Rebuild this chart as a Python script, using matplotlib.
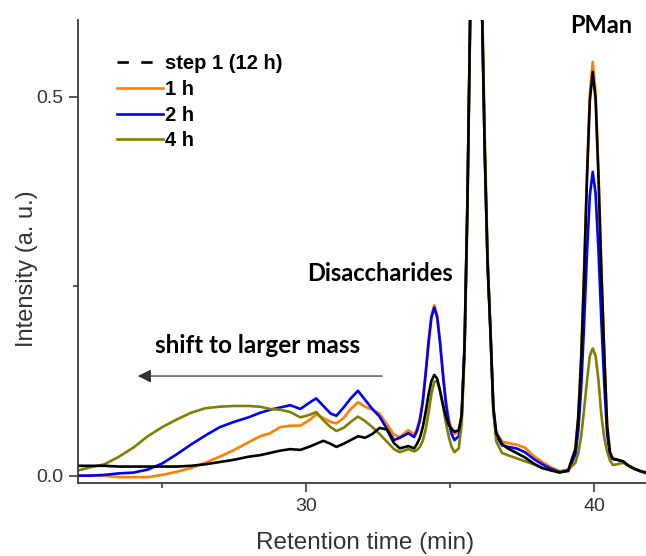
import matplotlib

matplotlib.use("Agg")

import matplotlib.pyplot as plt
from matplotlib.lines import Line2D
from matplotlib.ticker import FixedLocator


# retention time grid (min), denser around the peaks
TIME = [
    22.1, 22.5, 23.0, 23.5, 24.0, 24.5, 25.0, 25.5, 26.0, 26.5, 27.0, 27.5,
    28.0, 28.4, 28.75, 29.1, 29.45, 29.8, 30.1, 30.35, 30.6, 30.85, 31.05, 31.3,
    31.55, 31.8, 32.05, 32.3, 32.55, 32.8, 33.05, 33.25, 33.55, 33.75,
    33.85, 33.95, 34.05, 34.15, 34.25, 34.35, 34.45, 34.55, 34.65, 34.75, 34.85, 34.95, 35.05, 35.15,
    35.3, 35.4, 35.5, 35.6, 35.7, 35.8, 35.9, 36.0, 36.1, 36.2, 36.3, 36.4, 36.5, 36.6, 36.8,
    37.0, 37.3, 37.6, 37.9, 38.2, 38.5, 38.8, 39.1,
    39.35, 39.45, 39.55, 39.65, 39.75, 39.85, 39.95, 40.05, 40.15, 40.25, 40.35, 40.45, 40.55, 40.65,
    40.8, 41.0, 41.2, 41.4, 41.6, 41.8,
]

STEP1_12H = [
    0.013, 0.013, 0.013, 0.012, 0.012, 0.012, 0.012, 0.012, 0.013, 0.015, 0.018, 0.021,
    0.025, 0.027, 0.030, 0.033, 0.035, 0.034, 0.038, 0.042, 0.046, 0.042, 0.038, 0.042,
    0.047, 0.052, 0.050, 0.055, 0.063, 0.061, 0.043, 0.036, 0.039, 0.036,
    0.042, 0.050, 0.064, 0.084, 0.107, 0.125, 0.133, 0.128, 0.112, 0.094, 0.078, 0.067, 0.062, 0.058,
    0.060, 0.080, 0.17, 0.36, 0.62, 0.82, 0.90, 0.85, 0.63, 0.43, 0.28, 0.19, 0.090, 0.056, 0.042,
    0.036, 0.030, 0.024, 0.016, 0.010, 0.007, 0.004, 0.007,
    0.035, 0.078, 0.154, 0.265, 0.391, 0.495, 0.533, 0.497, 0.394, 0.270, 0.161, 0.065, 0.030, 0.022,
    0.021, 0.019, 0.013, 0.009, 0.006, 0.004,
]

H1 = [
    0.000, 0.000, 0.000, -0.002, -0.002, -0.002, 0.001, 0.005, 0.010, 0.017, 0.025, 0.034,
    0.044, 0.052, 0.056, 0.064, 0.066, 0.066, 0.073, 0.081, 0.076, 0.071, 0.069, 0.076,
    0.088, 0.097, 0.091, 0.087, 0.082, 0.068, 0.054, 0.051, 0.060, 0.054,
    0.062, 0.076, 0.100, 0.137, 0.178, 0.212, 0.225, 0.212, 0.178, 0.137, 0.100, 0.075, 0.061, 0.055,
    0.058, 0.080, 0.17, 0.36, 0.62, 0.82, 0.90, 0.85, 0.63, 0.43, 0.28, 0.19, 0.090, 0.058, 0.045,
    0.043, 0.041, 0.037, 0.026, 0.018, 0.011, 0.006, 0.007,
    0.036, 0.079, 0.157, 0.270, 0.398, 0.504, 0.546, 0.506, 0.402, 0.275, 0.164, 0.068, 0.032, 0.023,
    0.021, 0.019, 0.013, 0.009, 0.006, 0.004,
]

H2 = [
    0.000, 0.000, 0.001, 0.003, 0.004, 0.008, 0.016, 0.028, 0.041, 0.053, 0.064, 0.071,
    0.077, 0.083, 0.087, 0.090, 0.093, 0.088, 0.096, 0.102, 0.092, 0.082, 0.079, 0.090,
    0.102, 0.112, 0.100, 0.088, 0.078, 0.062, 0.047, 0.050, 0.056, 0.051,
    0.059, 0.073, 0.097, 0.134, 0.175, 0.209, 0.222, 0.209, 0.175, 0.133, 0.096, 0.071, 0.055, 0.047,
    0.052, 0.078, 0.17, 0.36, 0.62, 0.82, 0.90, 0.85, 0.63, 0.43, 0.28, 0.19, 0.085, 0.052, 0.040,
    0.038, 0.036, 0.031, 0.022, 0.015, 0.009, 0.005, 0.006,
    0.028, 0.060, 0.116, 0.199, 0.293, 0.370, 0.401, 0.372, 0.297, 0.204, 0.122, 0.055, 0.027, 0.022,
    0.021, 0.018, 0.013, 0.009, 0.006, 0.004,
]

H4 = [
    0.007, 0.011, 0.015, 0.025, 0.037, 0.052, 0.064, 0.074, 0.083, 0.089, 0.091, 0.092,
    0.092, 0.091, 0.088, 0.087, 0.084, 0.077, 0.080, 0.084, 0.073, 0.064, 0.059, 0.063,
    0.071, 0.078, 0.072, 0.064, 0.055, 0.045, 0.035, 0.031, 0.035, 0.032,
    0.034, 0.038, 0.046, 0.061, 0.083, 0.108, 0.124, 0.125, 0.112, 0.092, 0.070, 0.052, 0.038, 0.031,
    0.036, 0.068, 0.16, 0.35, 0.61, 0.82, 0.90, 0.86, 0.65, 0.45, 0.29, 0.19, 0.090, 0.045, 0.030,
    0.027, 0.023, 0.019, 0.015, 0.010, 0.007, 0.005, 0.008,
    0.017, 0.030, 0.052, 0.087, 0.125, 0.158, 0.168, 0.158, 0.126, 0.080, 0.050, 0.032, 0.020, 0.014,
    0.015, 0.017, 0.013, 0.009, 0.006, 0.003,
]

# drawing order: orange, blue, olive, black on top
SERIES = [
    ("1 h", H1, "#FF8000"),
    ("2 h", H2, "#0000FF"),
    ("4 h", H4, "#808000"),
    ("step 1 (12 h)", STEP1_12H, "#000000"),
]
LEGEND_ORDER = ["step 1 (12 h)", "1 h", "2 h", "4 h"]

AXIS_COLOR = "#3a3a3a"
NOTE_FONT = ["Lato", "DejaVu Sans"]
LW = 1.9


def main() -> None:
    plt.rcParams.update(
        {
            "font.family": ["Liberation Sans", "DejaVu Sans"],
            "font.size": 14,
        }
    )
    fig = plt.figure(figsize=(6.46, 5.56), dpi=100)
    ax = fig.add_axes([78 / 646, 73 / 556, 568 / 646, 463 / 556])

    lines = {}
    for label, values, color in SERIES:
        (ln,) = ax.plot(TIME, values, color=color, linewidth=LW, label=label)
        lines[label] = ln

    ax.set_xlim(22.08, 41.8)
    ax.set_ylim(-0.0097, 0.6015)

    ax.xaxis.set_major_locator(FixedLocator([30, 40]))
    ax.xaxis.set_minor_locator(FixedLocator([25, 35]))
    ax.yaxis.set_major_locator(FixedLocator([0.0, 0.5]))
    ax.yaxis.set_minor_locator(FixedLocator([0.25]))
    ax.set_yticklabels(["0.0", "0.5"])
    ax.set_xticklabels(["30", "40"])

    for side in ("top", "right"):
        ax.spines[side].set_visible(False)
    for side in ("left", "bottom"):
        ax.spines[side].set_color(AXIS_COLOR)
        ax.spines[side].set_linewidth(1.3)
    ax.tick_params(axis="both", which="both", direction="out", color=AXIS_COLOR,
                   width=1.2, labelcolor="#333333", labelsize=14)
    ax.tick_params(axis="y", which="major", length=6.5, pad=4)
    ax.tick_params(axis="y", which="minor", length=3.5)
    ax.tick_params(axis="x", which="major", length=6.5, pad=4)
    ax.tick_params(axis="x", which="minor", length=3.8)

    ax.set_xlabel("Retention time (min)", fontsize=17.5, color="#333333")
    ax.set_ylabel("Intensity (a. u.)", fontsize=17, color="#333333")
    ax.xaxis.set_label_coords(0.506, -0.106)
    ax.yaxis.set_label_coords(-0.070, 0.463)

    # legend: dashed handle for the 12 h reference
    handles = []
    for label in LEGEND_ORDER:
        if label == "step 1 (12 h)":
            handles.append(Line2D([], [], color="black", linewidth=LW, linestyle=(0, (4.3, 4.7))))
        else:
            handles.append(lines[label])
    ax.legend(
        handles,
        LEGEND_ORDER,
        loc="upper left",
        bbox_to_anchor=(0.069, 0.926),
        frameon=False,
        borderpad=0,
        borderaxespad=0,
        handlelength=2.25,
        handletextpad=0.12,
        labelspacing=0.33,
        prop={"family": ["Liberation Sans"], "weight": "bold", "size": 14.5},
    )

    ax.text(40.24, 0.5946, "PMan", ha="center", va="center", fontsize=17,
            fontweight="bold", family=NOTE_FONT)
    ax.text(32.57, 0.2674, "Disaccharides", ha="center", va="center", fontsize=17,
            fontweight="bold", family=NOTE_FONT)
    ax.text(28.30, 0.1724, "shift to larger mass", ha="center", va="center", fontsize=17.5,
            fontweight="bold", family=NOTE_FONT)
    ax.annotate(
        "",
        xy=(24.06, 0.1315),
        xytext=(32.74, 0.1315),
        arrowprops=dict(arrowstyle="-|>", color="#333333", linewidth=0.9, mutation_scale=20),
    )

    fig.savefig("out.png", dpi=100)
    plt.close(fig)


if __name__ == "__main__":
    assert len(TIME) == len(STEP1_12H) == len(H1) == len(H2) == len(H4)
    main()
